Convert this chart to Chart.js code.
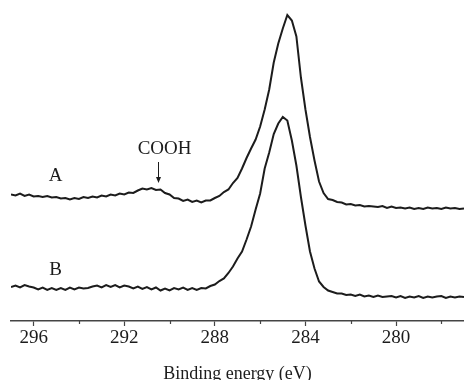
<!DOCTYPE html>
<html>
<head>
<meta charset="utf-8">
<script src="https://cdn.jsdelivr.net/npm/chart.js@4/dist/chart.umd.min.js"></script>
<style>
	html, body { margin: 0; padding: 0; background: #fff; }
	#wrap { width: 464px; height: 380px; }
</style>
</head>
<body>
<div id="wrap"><canvas id="chart"></canvas></div>
<script>
// binding energy (eV), every 0.2 eV
const energy = [
	297, 296.8, 296.6, 296.4, 296.2, 296, 295.8, 295.6, 295.4, 295.2,
	295, 294.8, 294.6, 294.4, 294.2, 294, 293.8, 293.6, 293.4, 293.2,
	293, 292.8, 292.6, 292.4, 292.2, 292, 291.8, 291.6, 291.4, 291.2,
	291, 290.8, 290.6, 290.4, 290.2, 290, 289.8, 289.6, 289.4, 289.2,
	289, 288.8, 288.6, 288.4, 288.2, 288, 287.8, 287.6, 287.4, 287.2,
	287, 286.8, 286.6, 286.4, 286.2, 286, 285.8, 285.6, 285.4, 285.2,
	285, 284.8, 284.6, 284.4, 284.2, 284, 283.8, 283.6, 283.4, 283.2,
	283, 282.8, 282.6, 282.4, 282.2, 282, 281.8, 281.6, 281.4, 281.2,
	281, 280.8, 280.6, 280.4, 280.2, 280, 279.8, 279.6, 279.4, 279.2,
	279, 278.8, 278.6, 278.4, 278.2, 278, 277.8, 277.6, 277.4, 277.2,
	277
];

// spectrum A (offset upward), arbitrary units
const spectrumA = [
	126.5, 125.5, 127.5, 125, 126.5, 124.5, 125, 124, 125, 123.5,
	124, 122.5, 123, 121.5, 123, 122, 124, 123, 124.5, 123.5,
	125.5, 124.5, 126.5, 125.5, 127.5, 126.5, 128.5, 128, 130.5, 132.5,
	131.5, 133, 131, 131.5, 128, 126.5, 123, 122.5, 120, 121.5,
	119, 120.5, 118.5, 120.5, 120.5, 123, 125, 129, 131.5, 138,
	143, 152.5, 163, 172.5, 181.5, 194.5, 211.5, 231.5, 258.5, 277.5,
	292.5, 306, 300.5, 284.5, 243.5, 211.5, 184, 160.5, 139.5, 128,
	122, 121, 119, 118.5, 116.5, 117, 115.5, 116, 114.5, 115,
	114.5, 114, 115, 113, 114.5, 113, 113.5, 112.5, 113.5, 112,
	113, 112, 113.5, 112.5, 113, 112, 113.5, 112.5, 113, 112,
	112.5
];

// spectrum B
const spectrumB = [
	34, 35.5, 33.5, 36, 34.5, 33.5, 31.5, 33.5, 31, 33,
	31, 33, 31, 33.5, 31.5, 33.5, 32.5, 33, 34.5, 35.5,
	33.5, 36, 34, 36, 33.5, 35.5, 34.5, 32.5, 34.5, 32,
	34, 31.5, 33.5, 30.5, 32.5, 30.5, 33, 31.5, 33.5, 31,
	33, 31, 33, 32.5, 35, 36.5, 40, 42.5, 48, 54.5,
	62.5, 69.5, 81.5, 94.5, 111.5, 127.5, 152.5, 168.5, 187, 197.5,
	204, 200.5, 180.5, 155.5, 124, 95.5, 69.5, 52.5, 39.5, 34,
	30.5, 29, 27.5, 27.5, 26, 26.5, 25, 26.5, 24.5, 25.5,
	24, 25.5, 24, 24.5, 25, 23.5, 25, 23, 24.5, 23.5,
	25, 23, 24.5, 23.5, 24.5, 25, 23, 24.5, 23.5, 24.5,
	24
];

const majorTicks = [296, 292, 288, 284, 280];
const minorTicks = [294, 290, 286, 282, 278];

// text labels placed in data units
const notes = [
	{ text: "A", x: 295.03, y: 145 },
	{ text: "B", x: 295.03, y: 51 },
	{ text: "COOH", x: 290.22, y: 172 }
];
const arrow = { x: 290.53, from: 159, to: 138 };

const ink = "#1c1c1c";
const serif = "'Liberation Serif', 'Times New Roman', serif";

const extras = {
	id: "extras",
	afterDraw(chart) {
		const ctx = chart.ctx;
		const xs = chart.scales.x, ys = chart.scales.y;
		ctx.save();

		// minor ticks under the axis line
		ctx.strokeStyle = "#444";
		ctx.lineWidth = 1.2;
		minorTicks.forEach(v => {
			const px = Math.round(xs.getPixelForValue(v)) + 0.5;
			ctx.beginPath();
			ctx.moveTo(px, xs.top);
			ctx.lineTo(px, xs.top + 3);
			ctx.stroke();
		});

		ctx.fillStyle = ink;
		ctx.font = "19px " + serif;
		ctx.textAlign = "center";
		ctx.textBaseline = "middle";
		notes.forEach(n => {
			ctx.fillText(n.text, xs.getPixelForValue(n.x), ys.getPixelForValue(n.y));
		});

		// arrow pointing at the COOH bump
		const ax = Math.round(xs.getPixelForValue(arrow.x)) + 0.5;
		const y1 = ys.getPixelForValue(arrow.from);
		const y2 = ys.getPixelForValue(arrow.to);
		ctx.strokeStyle = ink;
		ctx.lineWidth = 1;
		ctx.beginPath();
		ctx.moveTo(ax, y1);
		ctx.lineTo(ax, y2 - 4);
		ctx.stroke();
		ctx.beginPath();
		ctx.moveTo(ax - 2.5, y2 - 6);
		ctx.lineTo(ax + 2.5, y2 - 6);
		ctx.lineTo(ax, y2);
		ctx.closePath();
		ctx.fill();

		ctx.restore();
	}
};

const toPoints = (vals) => energy.map((e, i) => ({ x: e, y: vals[i] }));

new Chart(document.getElementById("chart"), {
	type: "line",
	data: {
		datasets: [
			{ label: "A", data: toPoints(spectrumA) },
			{ label: "B", data: toPoints(spectrumB) }
		]
	},
	options: {
		responsive: true,
		maintainAspectRatio: false,
		animation: false,
		layout: { padding: { left: 11, right: 0, top: 0, bottom: 0 } },
		elements: {
			line: { borderColor: ink, borderWidth: 2, tension: 0 },
			point: { radius: 0 }
		},
		plugins: {
			legend: { display: false },
			tooltip: { enabled: false }
		},
		scales: {
			x: {
				type: "linear",
				reverse: true,
				min: 277,
				max: 297,
				afterBuildTicks: (scale) => {
					scale.ticks = majorTicks.map(v => ({ value: v }));
				},
				afterFit: (scale) => { scale.height = 59; },
				border: { display: true, color: "#444", width: 1.5 },
				grid: { drawOnChartArea: false, drawTicks: true, tickLength: 5, color: "#444", tickWidth: 1.2 },
				ticks: {
					color: ink,
					padding: 1,
					maxRotation: 0,
					font: { family: serif, size: 19 }
				},
				title: {
					display: true,
					text: "Binding energy (eV)",
					color: ink,
					font: { family: serif, size: 18 },
					padding: { top: 0, bottom: -5 }
				}
			},
			y: {
				display: false,
				min: 0,
				max: 321
			}
		}
	},
	plugins: [extras]
});
</script>
</body>
</html>
